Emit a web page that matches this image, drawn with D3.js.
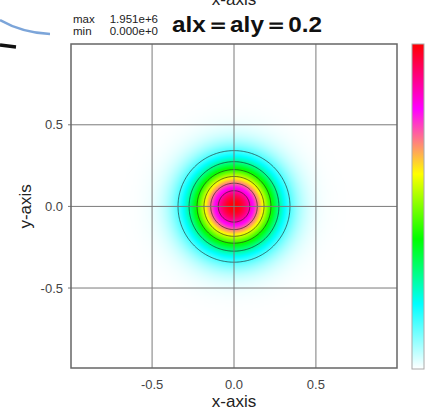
<!DOCTYPE html>
<html>
<head>
<meta charset="utf-8">
<script src="https://cdn.jsdelivr.net/npm/d3@7"></script>
<style>
  body { margin: 0; background: #fff; }
  svg { display: block; font-family: "Liberation Sans", Arial, sans-serif; }
</style>
</head>
<body>
<div id="chart"></div>
<script>
// field parameters (title: alx=aly=0.2)
var alx = 0.2, aly = 0.2;
var widthFactor = 1.5;            // exp(-(x^2/(1.5 alx^2) + y^2/(1.5 aly^2)))
var maxValue = 1.951e6, minValue = 0;
var xDomain = [-0.995, 0.995];
var yDomain = [-0.99, 0.995];
var xTicks = [-0.5, 0.0, 0.5];
var yTicks = [-0.5, 0.0, 0.5];
var contourFractions = [1, 2, 3, 4, 5, 6].map(function (k) { return k / 7; });
var colorStops = [0, 0.2, 0.4, 0.6, 0.8, 1.0];
var colorValues = ["#ffffff", "#00ffff", "#00ff00", "#ffff00", "#ff00ff", "#ff0000"];
var gridN = 241;

var W = 436, H = 411;
var margin = { left: 71, right: 39, top: 44, bottom: 43 };

var svg = d3.select("#chart").append("svg")
    .attr("width", W)
    .attr("height", H);

var x = d3.scaleLinear().domain(xDomain).range([margin.left, W - margin.right]);
var y = d3.scaleLinear().domain(yDomain).range([H - margin.bottom, margin.top]);

var color = d3.scaleLinear().domain(colorStops).range(colorValues)
    .interpolate(d3.interpolateRgb).clamp(true);

// sample the field on a regular grid
var gx = d3.range(gridN).map(function (i) { return xDomain[0] + i * (xDomain[1] - xDomain[0]) / (gridN - 1); });
var gy = d3.range(gridN).map(function (j) { return yDomain[1] - j * (yDomain[1] - yDomain[0]) / (gridN - 1); });
var field = new Array(gridN * gridN);
for (var j = 0; j < gridN; j++) {
    for (var i = 0; i < gridN; i++) {
        var ex = gx[i] * gx[i] / (widthFactor * alx * alx) + gy[j] * gy[j] / (widthFactor * aly * aly);
        field[j * gridN + i] = maxValue * Math.exp(-ex);
    }
}

// heat map painted into a canvas, then placed as an image
var cv = document.createElement("canvas");
cv.width = gridN; cv.height = gridN;
var ctx = cv.getContext("2d");
var img = ctx.createImageData(gridN, gridN);
for (var k = 0; k < field.length; k++) {
    var c = d3.rgb(color((field[k] - minValue) / (maxValue - minValue)));
    img.data[4 * k] = c.r;
    img.data[4 * k + 1] = c.g;
    img.data[4 * k + 2] = c.b;
    img.data[4 * k + 3] = 255;
}
ctx.putImageData(img, 0, 0);

svg.append("image")
    .attr("x", x(xDomain[0]))
    .attr("y", y(yDomain[1]))
    .attr("width", x(xDomain[1]) - x(xDomain[0]))
    .attr("height", y(yDomain[0]) - y(yDomain[1]))
    .attr("preserveAspectRatio", "none")
    .attr("href", cv.toDataURL());

// contour lines
var proj = d3.geoTransform({
    point: function (px, py) {
        var xv = xDomain[0] + (px - 0.5) * (xDomain[1] - xDomain[0]) / (gridN - 1);
        var yv = yDomain[1] - (py - 0.5) * (yDomain[1] - yDomain[0]) / (gridN - 1);
        this.stream.point(x(xv), y(yv));
    }
});
var contours = d3.contours()
    .size([gridN, gridN])
    .thresholds(contourFractions.map(function (f) { return f * maxValue; }))(field);

svg.append("g").selectAll("path")
    .data(contours)
    .enter().append("path")
    .attr("d", d3.geoPath(proj))
    .attr("fill", "none")
    .attr("stroke", "#1a1a1a")
    .attr("stroke-opacity", 0.75)
    .attr("stroke-width", 0.8);

// grid lines
svg.append("g").selectAll("line.gx")
    .data(xTicks).enter().append("line")
    .attr("x1", function (d) { return x(d); }).attr("x2", function (d) { return x(d); })
    .attr("y1", y(yDomain[0])).attr("y2", y(yDomain[1]))
    .attr("stroke", "#7a7a7a").attr("stroke-width", 1);

svg.append("g").selectAll("line.gy")
    .data(yTicks).enter().append("line")
    .attr("y1", function (d) { return y(d); }).attr("y2", function (d) { return y(d); })
    .attr("x1", x(xDomain[0]) - 3).attr("x2", x(xDomain[1]))
    .attr("stroke", "#7a7a7a").attr("stroke-width", 1);

// frame
svg.append("rect")
    .attr("x", x(xDomain[0])).attr("y", y(yDomain[1]))
    .attr("width", x(xDomain[1]) - x(xDomain[0]))
    .attr("height", y(yDomain[0]) - y(yDomain[1]))
    .attr("fill", "none").attr("stroke", "#666").attr("stroke-width", 1.5);

// tick labels (plain hyphen minus, as in the picture)
var tickFmt = function (d) { return d.toFixed(1); };

svg.append("g").selectAll("text")
    .data(xTicks).enter().append("text")
    .attr("x", function (d) { return x(d); })
    .attr("y", 389)
    .attr("text-anchor", "middle")
    .attr("font-size", 13).attr("fill", "#444")
    .text(tickFmt);

svg.append("g").selectAll("text")
    .data(yTicks).enter().append("text")
    .attr("x", 63)
    .attr("y", function (d) { return y(d); })
    .attr("dy", "0.36em")
    .attr("text-anchor", "end")
    .attr("font-size", 13).attr("fill", "#444")
    .text(tickFmt);

// axis labels
svg.append("text")
    .attr("x", x(0)).attr("y", 407)
    .attr("text-anchor", "middle")
    .attr("font-size", 17).attr("fill", "#222")
    .text("x-axis");

svg.append("text")
    .attr("transform", "translate(31," + y(0) + ") rotate(-90)")
    .attr("text-anchor", "middle")
    .attr("font-size", 17).attr("fill", "#222")
    .text("y-axis");

// label cut by the top edge of the picture
svg.append("text")
    .attr("x", x(0)).attr("y", 5)
    .attr("text-anchor", "middle")
    .attr("font-size", 17).attr("fill", "#222")
    .text("x-axis");

// max / min
var fmt = function (v) {
    var e = v === 0 ? 0 : Math.floor(Math.log10(v));
    return (v / Math.pow(10, e)).toFixed(3) + "e+" + e;
};
var info = svg.append("g").attr("font-size", 11.5).attr("fill", "#222");
info.append("text").attr("x", 73).attr("y", 23).text("max");
info.append("text").attr("x", 73).attr("y", 35).text("min");
info.append("text").attr("x", 158).attr("y", 23).attr("text-anchor", "end").text(fmt(maxValue));
info.append("text").attr("x", 158).attr("y", 35).attr("text-anchor", "end").text(fmt(minValue));

// title
svg.append("text")
    .attr("x", 172).attr("y", 32)
    .attr("font-size", 22).attr("font-weight", "bold").attr("fill", "#111")
    .attr("textLength", 150).attr("lengthAdjust", "spacingAndGlyphs")
    .text("alx＝aly＝" + alx);

// colour bar
var defs = svg.append("defs");
var grad = defs.append("linearGradient").attr("id", "cbar")
    .attr("x1", 0).attr("y1", 1).attr("x2", 0).attr("y2", 0);
grad.selectAll("stop").data(colorStops).enter().append("stop")
    .attr("offset", function (d) { return d; })
    .attr("stop-color", function (d, i) { return colorValues[i]; });

svg.append("rect")
    .attr("x", 412).attr("y", 44)
    .attr("width", 12).attr("height", 325)
    .attr("fill", "url(#cbar)")
    .attr("stroke", "#aaa").attr("stroke-width", 1);

// fragment of a neighbouring picture at the top-left corner
svg.append("path")
    .attr("d", "M0,20 C14,28 30,33 50,34")
    .attr("fill", "none").attr("stroke", "#5b8ed0").attr("stroke-width", 2.5)
    .attr("stroke-opacity", 0.8);
svg.append("line")
    .attr("x1", 0).attr("y1", 45)
    .attr("x2", 16).attr("y2", 47)
    .attr("stroke", "#111").attr("stroke-width", 3.5);
</script>
</body>
</html>
